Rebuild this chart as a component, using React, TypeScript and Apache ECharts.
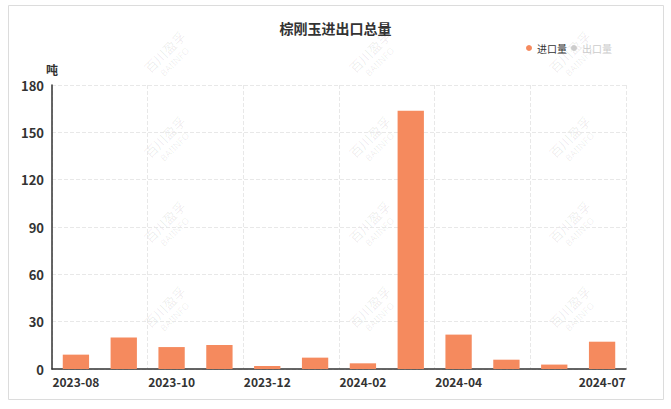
import React, { useEffect, useRef } from "react";
import * as echarts from "echarts";

const categories = ["2023-08","2023-09","2023-10","2023-11","2023-12","2024-01","2024-02","2024-03","2024-04","2024-05","2024-06","2024-07"];
const importValues = [9.1, 19.9, 13.9, 15.2, 1.9, 7.2, 3.6, 163.7, 21.8, 5.9, 2.8, 17.3];
const exportValues = [0.3, 0.2, 0.4, 0.3, 0.2, 0.3, 0.2, 0.3, 0.2, 0.3, 0.2, 0.3];
const title = "棕刚玉进出口总量";
const seriesNames = ["进口量", "出口量"];
const unit = "吨";

const watermarkPos = [
  [165, 55], [370, 55], [570, 55],
  [165, 140], [370, 140], [570, 140],
  [165, 225], [370, 225], [570, 225],
  [165, 310], [370, 310], [570, 310],
];

export default function App() {
  const ref = useRef<HTMLDivElement>(null);
  useEffect(() => {
    const chart = echarts.init(ref.current!, null, { renderer: "svg" });
    const wm: any[] = [];
    watermarkPos.forEach(([x, y]) => {
      wm.push({
        type: "group",
        x, y, rotation: Math.PI / 4, silent: true, z: -1,
        children: [
          { type: "text", x: -24, y: -9, style: { text: "百川盈孚", fontSize: 13, fill: "rgba(0,0,0,0.08)", fontFamily: "Noto Sans CJK SC" } },
          { type: "text", x: -16, y: 7, style: { text: "BAIINFO", fontSize: 9, fill: "rgba(0,0,0,0.08)", fontFamily: "Noto Sans" } },
        ],
      });
    });
    chart.setOption({
      animation: false,
      textStyle: { fontFamily: "Noto Sans CJK SC" },
      title: {
        text: title, left: "center", top: 16,
        textStyle: { fontSize: 14, fontWeight: "bold", color: "#333" },
      },
      legend: {
        right: 54, top: 38, icon: "circle", itemWidth: 6, itemHeight: 6, itemGap: 4,
        textStyle: { fontSize: 10, color: "#333" },
        inactiveColor: "#ccc",
        selected: { [seriesNames[0]]: true, [seriesNames[1]]: false },
        data: seriesNames,
      },
      grid: { left: 52, right: 45, top: 85, bottom: 40 },
      xAxis: {
        type: "category",
        data: categories,
        axisLine: { lineStyle: { color: "#333", width: 1.5 } },
        axisTick: { show: false },
        axisLabel: {
          interval: (i: number) => (i % 2 === 0 && i < 10) || i === 11,
          fontSize: 12, fontWeight: "bold", color: "#333", margin: 6,
        },
        splitLine: { show: true, interval: 1, lineStyle: { type: "dashed", color: "#e8e8e8" } },
      },
      yAxis: {
        type: "value",
        min: 0, max: 180, interval: 30,
        name: unit, nameGap: 10,
        nameTextStyle: { fontSize: 12, fontWeight: "bold", color: "#333", align: "center" },
        axisLine: { show: true, lineStyle: { color: "#333", width: 1.5 } },
        axisTick: { show: false },
        axisLabel: { fontSize: 13, fontWeight: "bold", color: "#333", margin: 8 },
        splitLine: { lineStyle: { type: "dashed", color: "#e8e8e8" } },
      },
      series: [
        { name: seriesNames[0], type: "bar", data: importValues, barWidth: "55%", itemStyle: { color: "#F58A5E" } },
        { name: seriesNames[1], type: "bar", data: exportValues, barWidth: "55%", itemStyle: { color: "#A9A9A9" } },
      ],
      graphic: [
        { type: "rect", shape: { x: 8.5, y: 5.5, width: 655, height: 394 }, style: { fill: "none", stroke: "#dcdcdc", lineWidth: 1 }, silent: true },
        ...wm,
      ],
    });
    return () => chart.dispose();
  }, []);
  return <div ref={ref} style={{ position: "fixed", left: 0, top: 0, width: 671, height: 409, background: "#fff" }} />;
}
